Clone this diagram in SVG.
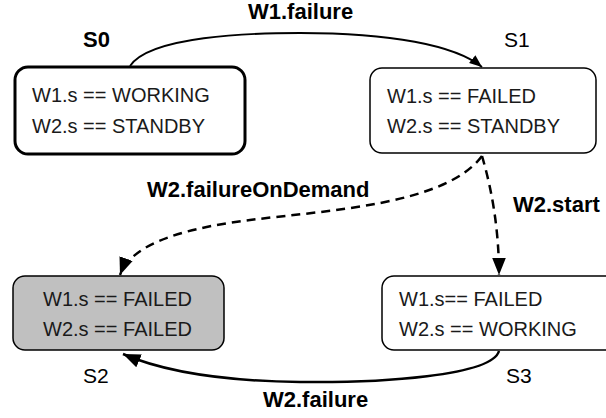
<svg xmlns="http://www.w3.org/2000/svg" width="606" height="418" viewBox="0 0 606 418">
<style>
.box{fill:#fff;stroke:#000;stroke-width:1.5}
.t{font-family:"Liberation Sans",Arial,sans-serif;font-size:20px;fill:#1a1a1a}
.lb{font-family:"Liberation Sans",Arial,sans-serif;font-size:22px;font-weight:bold;fill:#000}
.ln{font-family:"Liberation Sans",Arial,sans-serif;font-size:21px;fill:#000}
.c{fill:none;stroke:#000}
.solid{stroke-width:1.8}
.dash{stroke-width:2.5;stroke-dasharray:9 6}
</style>
<defs>
<marker id="ah" viewBox="0 0 10 10" refX="10" refY="5" markerWidth="10" markerHeight="10" markerUnits="userSpaceOnUse" orient="auto">
<path d="M0,0 L10,5 L0,10 z" fill="#000"/>
</marker>
<marker id="ah2" viewBox="0 0 10 10" refX="10" refY="5" markerWidth="7" markerHeight="7" markerUnits="strokeWidth" orient="auto">
<path d="M0,1 L10,5 L0,9 z" fill="#000"/>
</marker>
</defs>
<g id="connectors">
<path class="c solid" d="M130,66 C150,36 250,33 300,33 C390,33 455,45 482,67" marker-end="url(#ah2)"/>
<path class="c dash" d="M482,156 C445,205 330,210 250,220 C170,230 130,248 120,275" marker-end="url(#ah2)"/>
<path class="c dash" d="M482,156 C492,190 499,230 499,275" marker-end="url(#ah2)"/>
<path class="c" style="stroke-width:2.5" d="M499,351 C492,376 380,383 300,382 C220,381 160,370 123,354" marker-end="url(#ah2)"/>
</g>
<g id="S0">
<rect x="15" y="67" width="230" height="87" rx="13" class="box" style="stroke-width:3"/>
<text class="t" x="32" y="102">W1.s == WORKING</text>
<text class="t" x="32" y="133">W2.s == STANDBY</text>
<text class="lb" x="83" y="47">S0</text>
</g>
<g id="S1">
<rect x="370" y="68" width="226" height="85" rx="12" class="box"/>
<text class="t" x="387" y="103">W1.s == FAILED</text>
<text class="t" x="387" y="133">W2.s == STANDBY</text>
<text class="ln" x="504" y="47">S1</text>
</g>
<g id="S2">
<rect x="13" y="276" width="211" height="74" rx="12" class="box" style="fill:#c0c0c0"/>
<text class="t" x="43" y="306">W1.s == FAILED</text>
<text class="t" x="43" y="336">W2.s == FAILED</text>
<text class="ln" x="83" y="383">S2</text>
</g>
<g id="S3">
<rect x="382" y="276" width="240" height="74" rx="12" class="box"/>
<text class="t" x="399" y="306">W1.s== FAILED</text>
<text class="t" x="399" y="336">W2.s == WORKING</text>
<text class="ln" x="506" y="383">S3</text>
</g>
<g id="labels">
<text class="lb" x="248" y="19">W1.failure</text>
<text class="lb" x="147" y="197">W2.failureOnDemand</text>
<text class="lb" x="513" y="212">W2.start</text>
<text class="lb" x="263" y="407">W2.failure</text>
</g>
</svg>
